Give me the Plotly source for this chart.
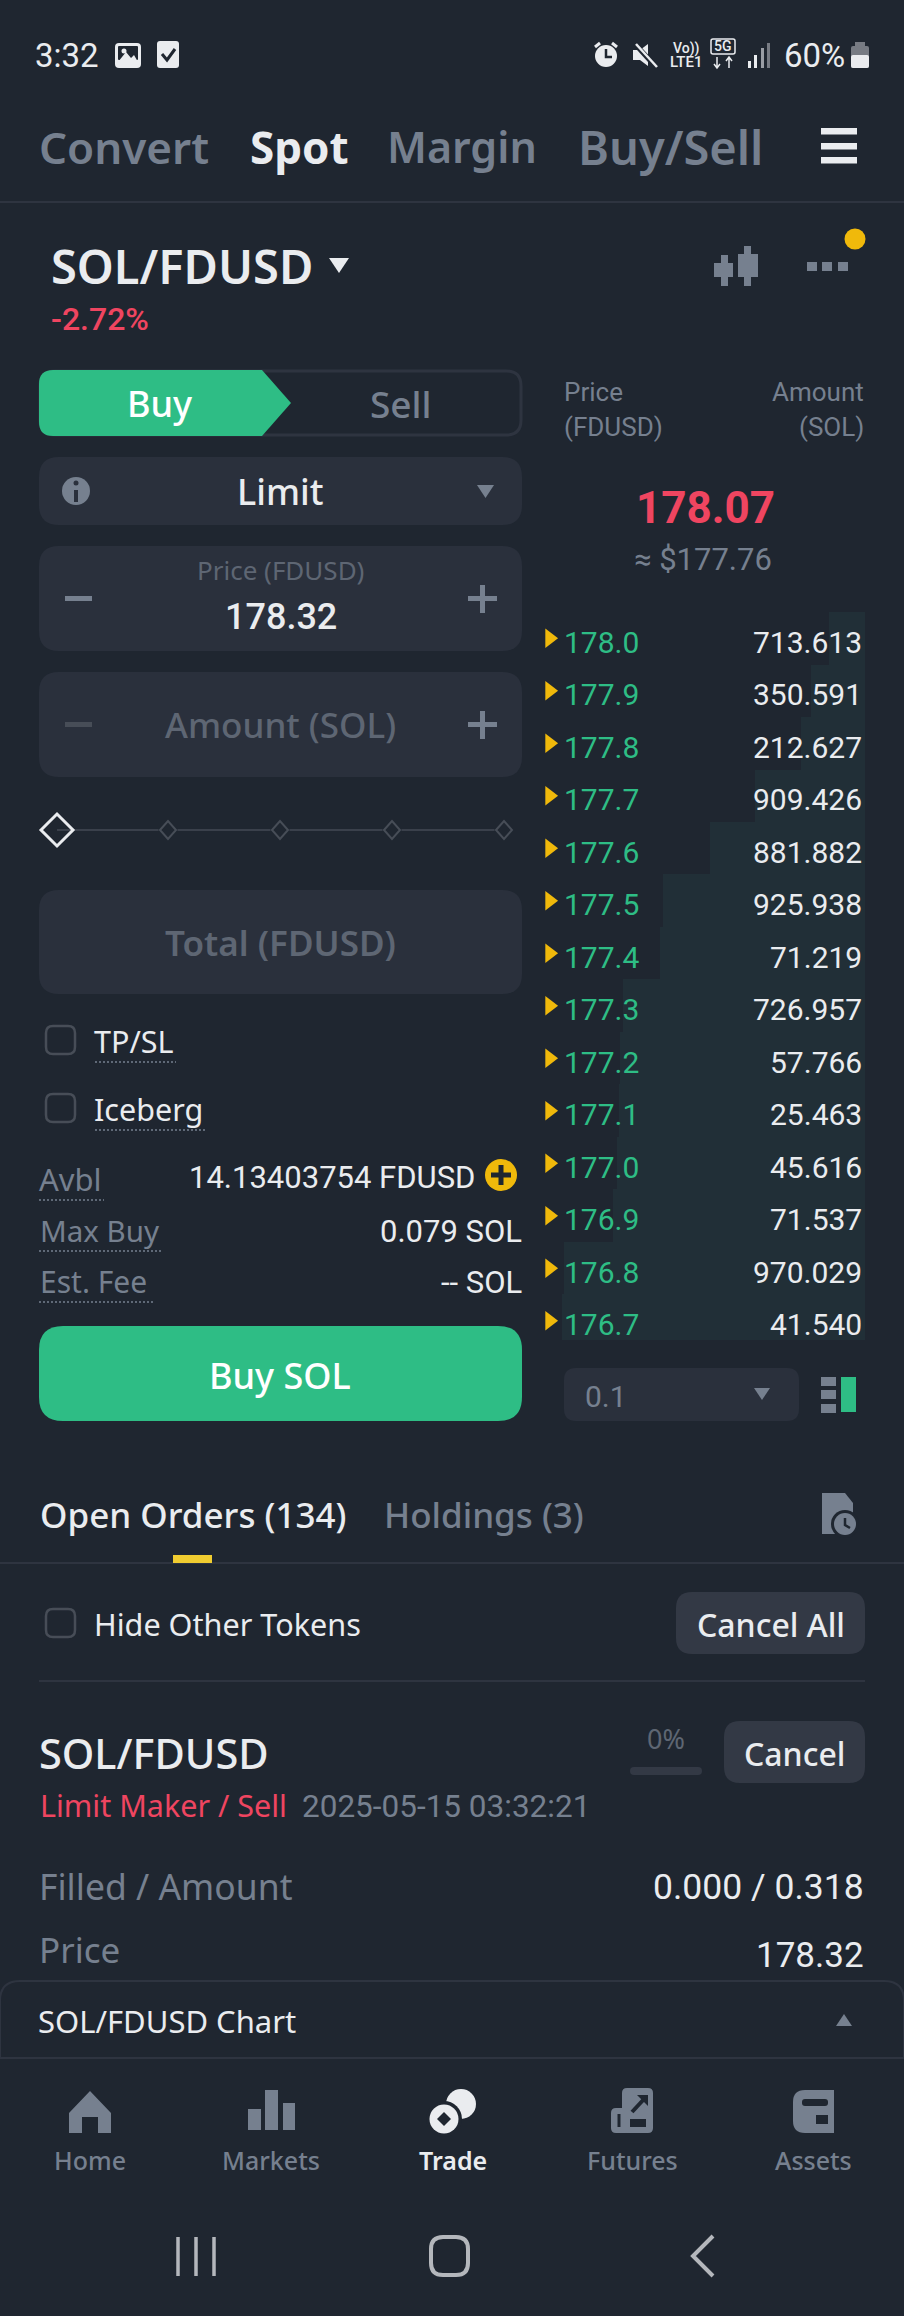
import plotly.graph_objects as go

# ---------- data ----------
prices = ["178.0", "177.9", "177.8", "177.7", "177.6", "177.5", "177.4",
          "177.3", "177.2", "177.1", "177.0", "176.9", "176.8", "176.7"]
amounts = ["713.613", "350.591", "212.627", "909.426", "881.882", "925.938", "71.219",
           "726.957", "57.766", "25.463", "45.616", "71.537", "970.029", "41.540"]
# the depth bars are the running total of the amounts
depth = []
running = 0.0
for a in amounts:
    running += float(a)
    depth.append(running)
slider_stops = [168, 280, 392, 504]
tabs = ["Convert", "Spot", "Margin", "Buy/Sell"]
nav_labels = ["Home", "Markets", "Trade", "Futures", "Assets"]

# ---------- palette ----------
BG = "#1F2630"
PANEL = "#2A303C"
BTN = "#333945"
LINE = "#2E3440"
GRAY = "#76808F"
DIM = "#5E6673"
WHITE = "#EAECEF"
GREEN = "#2EBD85"
RED = "#EF4560"
YELLOW = "#F0B90B"
SANS = "Noto Sans"
NUM = "Roboto"

shapes = []
annos = []


def rr(x0, y0, x1, y1, r):
    return (f"M{x0+r},{y0} L{x1-r},{y0} Q{x1},{y0} {x1},{y0+r} L{x1},{y1-r} Q{x1},{y1} {x1-r},{y1} "
            f"L{x0+r},{y1} Q{x0},{y1} {x0},{y1-r} L{x0},{y0+r} Q{x0},{y0} {x0+r},{y0} Z")


def fill(path, color):
    shapes.append(dict(type="path", xref="x", yref="y", path=path, fillcolor=color,
                       line=dict(width=0), layer="below"))


def stroke(path, color, w=2, dash="solid", top=False):
    shapes.append(dict(type="path", xref="x", yref="y", path=path, fillcolor="rgba(0,0,0,0)",
                       line=dict(color=color, width=w, dash=dash), layer="above" if top else "below"))


def box(x0, y0, x1, y1, color, r=0):
    fill(rr(x0, y0, x1, y1, r) if r else f"M{x0},{y0} L{x1},{y0} L{x1},{y1} L{x0},{y1} Z", color)


def poly(pts, color):
    fill("M" + " L".join(f"{x},{y}" for x, y in pts) + " Z", color)


def circ(cx, cy, r, color):
    shapes.append(dict(type="circle", xref="x", yref="y", x0=cx-r, x1=cx+r, y0=cy-r, y1=cy+r,
                       fillcolor=color, line=dict(width=0), layer="below"))


def hline(x0, x1, y, color=LINE, w=2, dash="solid"):
    stroke(f"M{x0},{y} L{x1},{y}", color, w, dash)


def text(x, y, s, size, color=WHITE, anchor="center", family=SANS, weight=400):
    # compensate the label padding and glyph side bearings
    nudge = {"left": -3, "right": 2, "center": 0}[anchor]
    dy = -1.5 if family == SANS else 0
    annos.append(dict(xref="x", yref="y", x=x+nudge, y=y+dy, text=s, showarrow=False, xanchor=anchor,
                      yanchor="middle", font=dict(family=family, size=size, color=color, weight=weight)))


# ---------- status bar ----------
text(36, 55, "3:32", 33, WHITE, "left", NUM)
box(115, 43, 141, 68, WHITE, 4)
box(118, 46, 138, 60, BG, 1)
circ(124, 51, 2.5, WHITE)
poly([(118, 62), (126, 52), (131, 58), (134, 55), (138, 62)], WHITE)
box(157, 41, 179, 68, WHITE, 3)
stroke("M162,54 L167,60 L175,49", BG, 3)
circ(606, 56, 11, WHITE)
stroke("M606,49 L606,57 L612,57", BG, 2.5)
stroke("M595,47 L600,43", WHITE, 3)
stroke("M612,43 L617,47", WHITE, 3)
poly([(633, 50), (640, 50), (648, 44), (648, 66), (640, 60), (633, 60)], WHITE)
stroke("M635,44 L656,67", BG, 5)
stroke("M636,44 L657,67", WHITE, 2.5)
text(686, 48, "Vo))", 14, WHITE, "center", NUM, 500)
text(686, 62, "LTE1", 15, WHITE, "center", NUM, 500)
stroke(rr(711, 39, 735, 54, 2), WHITE, 1.5)
text(723, 46, "5G", 14, WHITE, "center", NUM, 500)
stroke("M717,57 L717,68 M714,64 L717,68 L720,64", WHITE, 1.5)
stroke("M729,68 L729,57 M726,61 L729,57 L732,61", WHITE, 1.5)
for bx, by, col in [(748, 61, WHITE), (754, 55, WHITE), (761, 48, "#9a9ea5"), (767, 43, "#777b83")]:
    box(bx, by, bx+3, 68, col)
text(785, 55, "60%", 33, WHITE, "left", NUM)
box(851, 46, 869, 68, "#777b83", 2)
box(855, 42, 865, 47, "#777b83")
box(851, 55, 869, 68, WHITE, 2)

# ---------- top tabs ----------
for tab, tx, col, wt, sz in zip(tabs, [124, 299, 462, 670], [GRAY, WHITE, GRAY, GRAY],
                                [600, 700, 600, 600], [44, 44, 43, 47]):
    text(tx, 148, tab, sz, col, "center", SANS, wt)
for hy in (128, 143, 157):
    box(821, hy, 857, hy+6.5, WHITE)
hline(0, 904, 202)

# ---------- pair header ----------
text(52, 267, "SOL/FDUSD", 47, WHITE, "left", SANS, 600)
poly([(329, 258), (349, 258), (339, 273)], WHITE)
text(52, 319, "-2.72%", 32, RED, "left", NUM, 500)
box(714, 263, 733, 277, GRAY)
box(721, 255, 728, 286, GRAY)
box(738, 254, 758, 277, GRAY)
box(744, 246, 751, 286, GRAY)
for dx in (807, 822, 838):
    box(dx, 262, dx+10, 271, GRAY)
circ(855, 239, 10.5, YELLOW)

# ---------- buy / sell switch ----------
stroke(rr(40, 371, 521, 435, 15), LINE, 3)
fill("M53,370 L262,370 L291,403 L262,436 L53,436 Q39,436 39,422 L39,384 Q39,370 53,370 Z", GREEN)
text(160, 405, "Buy", 36, "#FFFFFF", "center", SANS, 500)
text(401, 405, "Sell", 37, GRAY, "center", SANS, 500)

# ---------- order form ----------
box(39, 457, 522, 525, PANEL, 20)
circ(76, 491, 14, GRAY)
box(74, 490, 78, 502, PANEL)
circ(76, 483, 2.5, PANEL)
text(280, 493, "Limit", 36, WHITE, "center", SANS, 500)
poly([(477, 485), (494, 485), (485.5, 498)], GRAY)

box(39, 546, 522, 651, PANEL, 20)
text(280, 571, "Price (FDUSD)", 26, DIM)
text(281, 617, "178.32", 36, WHITE, "center", NUM, 500)
box(65, 596, 92, 601, GRAY)
box(468, 596, 497, 601, GRAY)
box(480, 585, 485, 613, GRAY)

box(39, 672, 522, 777, PANEL, 20)
text(280, 726, "Amount (SOL)", 35, DIM, "center", SANS, 500)
box(65, 722, 92, 727, "#474D57")
box(468, 722, 497, 727, GRAY)
box(480, 711, 485, 739, GRAY)

hline(57, 504, 830, "#3A404B", 2)
for sx in slider_stops:
    poly([(sx-10, 830), (sx, 820), (sx+10, 830), (sx, 840)], BG)
    stroke(f"M{sx-8},830 L{sx},821 L{sx+8},830 L{sx},839 Z", "#474D57", 2)
stroke("M41,830 L57,814 L73,830 L57,846 Z", WHITE, 3)

box(39, 890, 522, 994, PANEL, 20)
text(280, 944, "Total (FDUSD)", 35, DIM, "center", SANS, 600)

stroke(rr(46, 1026, 75, 1054, 7), "#474D57", 2.5)
text(95, 1042, "TP/SL", 30.5, WHITE, "left")
hline(95, 176, 1062, GRAY, 1.5, "2px,2px")
stroke(rr(46, 1094, 75, 1122, 7), "#474D57", 2.5)
text(95, 1110, "Iceberg", 30.5, WHITE, "left")
hline(95, 206, 1130, GRAY, 1.5, "2px,2px")

text(40, 1180, "Avbl", 31, GRAY, "left")
hline(39, 104, 1200, GRAY, 1.5, "2px,2px")
text(475, 1177, "14.13403754 FDUSD", 31, WHITE, "right", NUM)
circ(501, 1175, 16, YELLOW)
box(491, 1172.5, 511, 1177.5, BG)
box(498.5, 1165, 503.5, 1185, BG)
text(41, 1232, "Max Buy", 29.5, GRAY, "left")
hline(39, 161, 1251, GRAY, 1.5, "2px,2px")
text(522, 1231, "0.079 SOL", 31, WHITE, "right", NUM)
text(41, 1283, "Est. Fee", 30, GRAY, "left")
hline(39, 155, 1302, GRAY, 1.5, "2px,2px")
text(522, 1282, "-- SOL", 31, WHITE, "right", NUM)

box(39, 1326, 522, 1421, GREEN, 24)
text(280, 1377, "Buy SOL", 36, "#FFFFFF", "center", SANS, 500)

# ---------- order book heading ----------
text(565, 392, "Price", 26, GRAY, "left", NUM)
text(565, 427, "(FDUSD)", 26, GRAY, "left", NUM)
text(864, 392, "Amount", 26, GRAY, "right", NUM)
text(864, 427, "(SOL)", 26, GRAY, "right", NUM)
text(705, 508, "178.07", 44, RED, "center", NUM, 700)
text(703, 559, "≈ $177.76", 31, GRAY, "center", NUM)

# ---------- order book rows ----------
for i, (p, a) in enumerate(zip(prices, amounts)):
    annos.append(dict(xref="x2", yref="y2", x=6005, y=i, yshift=-4, text=p, showarrow=False,
                      xanchor="left", font=dict(family=NUM, size=30, color=GREEN)))
    annos.append(dict(xref="x2", yref="y2", x=20, y=i, yshift=-4, text=a, showarrow=False,
                      xanchor="right", font=dict(family=NUM, size=30, color=WHITE)))

box(564, 1368, 799, 1421, PANEL, 12)
text(586, 1396, "0.1", 30, GRAY, "left", NUM)
poly([(754, 1388), (770, 1388), (762, 1400)], GRAY)
for iy in (1377, 1390, 1404):
    box(821, iy, 836, iy+9, GRAY)
box(841, 1377, 856, 1412, GREEN)

# ---------- open orders ----------
text(41, 1516, "Open Orders (134)", 35, WHITE, "left", SANS, 500)
text(385, 1516, "Holdings (3)", 35, GRAY, "left", SANS, 500)
poly([(822, 1493), (845, 1493), (853, 1503), (853, 1534), (822, 1534)], GRAY)
circ(845, 1524, 14, BG)
circ(845, 1524, 11, GRAY)
stroke("M845,1518 L845,1525 L850,1528", BG, 2.5)
hline(0, 904, 1563)
box(173, 1555, 212, 1563, "#F0CC30")

stroke(rr(46, 1609, 75, 1637, 7), "#474D57", 2.5)
text(95, 1625, "Hide Other Tokens", 30.6, WHITE, "left")
box(676, 1592, 865, 1654, BTN, 16)
text(771, 1626, "Cancel All", 32, WHITE, "center", SANS, 500)
hline(39, 865, 1681)

text(40, 1754, "SOL/FDUSD", 41.5, WHITE, "left", SANS, 500)
text(666, 1740, "0%", 27, DIM, "center")
box(630, 1767, 702, 1775, BTN, 4)
box(724, 1721, 865, 1783, BTN, 16)
text(794, 1755, "Cancel", 32, WHITE, "center", SANS, 500)
text(41, 1806, "Limit Maker / Sell", 30.5, RED, "left")
text(303, 1806, "2025-05-15 03:32:21", 31.5, GRAY, "left", NUM)
text(40, 1887, "Filled / Amount", 35.5, GRAY, "left")
text(864, 1887, "0.000 / 0.318", 35.5, WHITE, "right", NUM)
text(40, 1951, "Price", 35, GRAY, "left")
text(864, 1955, "178.32", 35, WHITE, "right", NUM)

# ---------- chart drawer ----------
box(0, 1981, 904, 2316, BG)
stroke("M0,2058 L0,2001 Q0,1981 20,1981 L884,1981 Q904,1981 904,2001 L904,2058 L0,2058", LINE, 2)
text(39, 2022, "SOL/FDUSD Chart", 31, WHITE, "left")
poly([(844, 2014), (852, 2026), (836, 2026)], GRAY)

# ---------- bottom navigation ----------
NAVC = "#76808F"
poly([(90, 2091), (111, 2113), (111, 2133), (98, 2133), (98, 2117), (82, 2117), (82, 2133), (69, 2133), (69, 2113)], NAVC)
box(248, 2109, 261, 2130, NAVC)
box(265, 2090, 278, 2130, NAVC)
box(283, 2103, 295, 2130, NAVC)
circ(461, 2104, 15, WHITE)
circ(444, 2119, 18, BG)
circ(444, 2119, 14.5, WHITE)
poly([(444, 2112), (451, 2119), (444, 2126), (437, 2119)], BG)
box(622, 2088, 653, 2133, NAVC, 5)
box(611, 2108, 630, 2133, NAVC, 5)
stroke("M619,2114 L619,2127", BG, 3)
box(630, 2119, 646, 2127, BG)
stroke("M632,2112 L645,2098", BG, 4)
poly([(637, 2095), (648, 2095), (648, 2106)], BG)
fill("M805,2090 L834,2090 L834,2133 L805,2133 Q793,2133 793,2121 L793,2102 Q793,2090 805,2090 Z", NAVC)
box(802, 2099, 828, 2106, BG, 3)
box(816, 2115, 828, 2124, BG)
for lab, lx, col, wt in zip(nav_labels, [90, 271, 453, 632, 813],
                            [NAVC, NAVC, WHITE, NAVC, NAVC], [500, 500, 600, 500, 500]):
    text(lx, 2161, lab, 25, col, "center", SANS, wt)

# ---------- system navigation ----------
ANDR = "#B4B7BC"
for ax in (178, 196, 214):
    stroke(f"M{ax},2237 L{ax},2276", ANDR, 3.5)
stroke(rr(431, 2237, 468, 2275, 12), ANDR, 4)
stroke("M713,2236 L693,2256 L713,2276", ANDR, 4)

# ---------- figure ----------
fig = go.Figure()
fig.add_trace(go.Scatter(x=[0, 904], y=[0, 2316], mode="markers", marker=dict(opacity=0),
                         hoverinfo="skip", showlegend=False, xaxis="x", yaxis="y"))
fig.add_trace(go.Bar(x=depth, y=prices, orientation="h", marker=dict(color="#212F37", line=dict(width=0)),
                     hoverinfo="skip", showlegend=False, xaxis="x2", yaxis="y2"))
fig.add_trace(go.Scatter(x=[6250] * len(prices), y=prices, mode="markers",
                         marker=dict(symbol="triangle-right", size=17, color=YELLOW, line=dict(width=0)),
                         hoverinfo="skip", showlegend=False, xaxis="x2", yaxis="y2"))

hidden = dict(visible=False, showgrid=False, zeroline=False, fixedrange=True)
fig.update_layout(
    width=904, height=2316, autosize=False,
    margin=dict(l=0, r=0, t=0, b=0, pad=0),
    paper_bgcolor=BG, plot_bgcolor="rgba(0,0,0,0)",
    bargap=0, showlegend=False,
    xaxis=dict(domain=[0, 1], range=[0, 904], **hidden),
    yaxis=dict(domain=[0, 1], range=[2316, 0], **hidden),
    xaxis2=dict(domain=[520/904, 865/904], range=[6836, 0], anchor="y2", **hidden),
    yaxis2=dict(domain=[1-1340/2316, 1-612/2316], range=[13.367, -0.5], type="category",
                categoryorder="array", categoryarray=prices, anchor="x2", **hidden),
    shapes=shapes, annotations=annos,
)
fig.write_html("out.html", config=dict(displayModeBar=False),
               post_script="document.body.style.margin='0';document.body.style.background='#1F2630';")
